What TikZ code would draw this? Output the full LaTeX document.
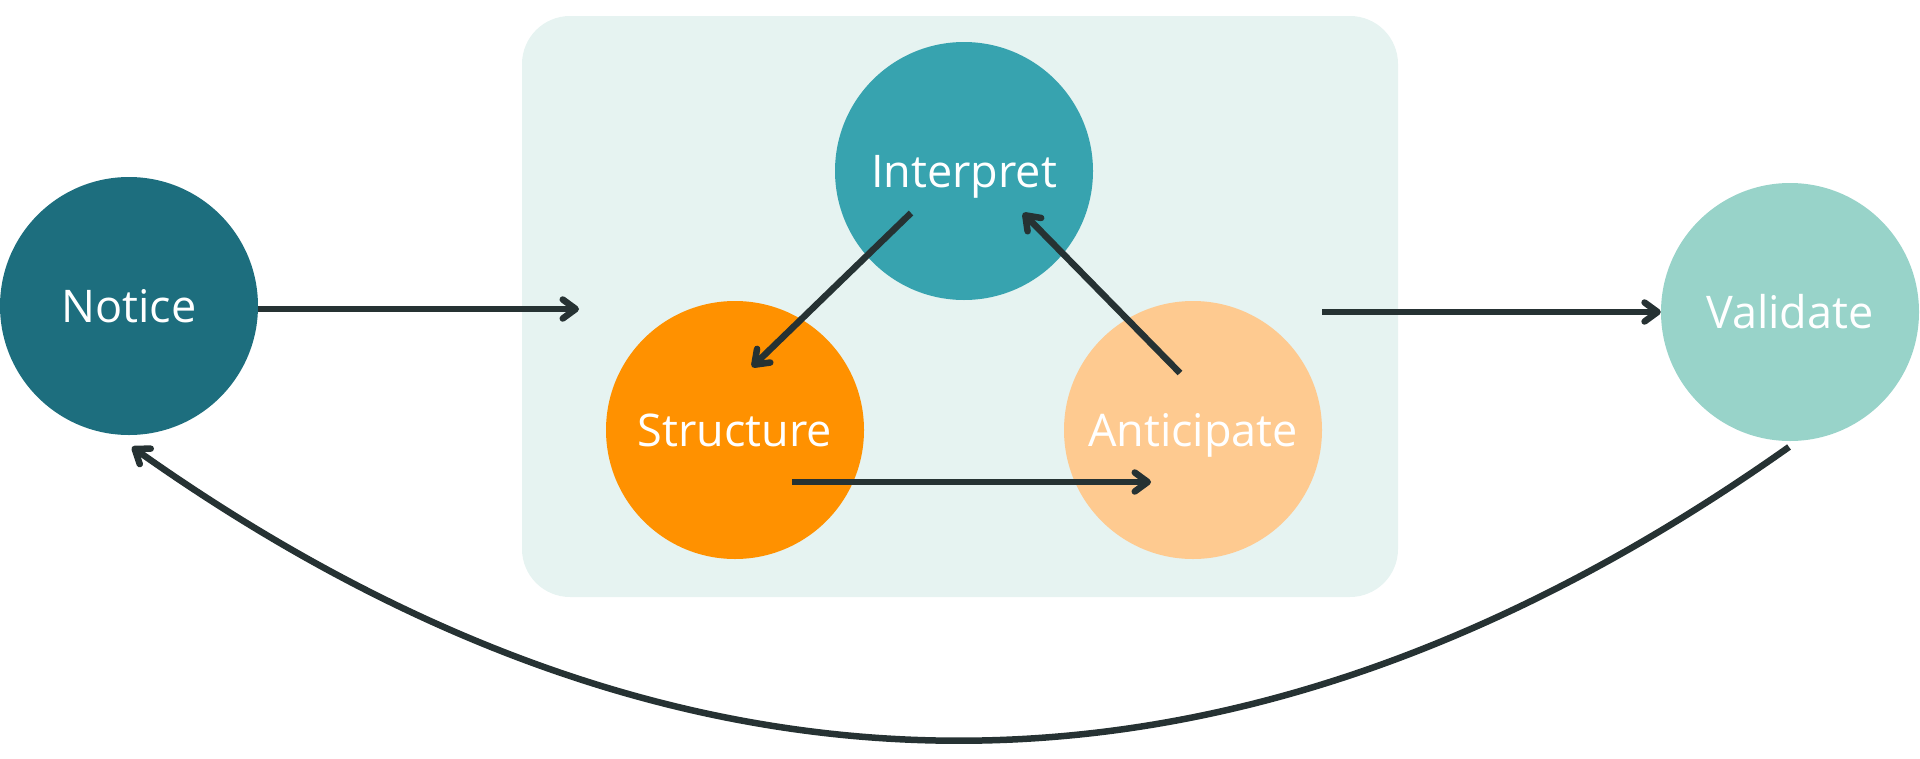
\documentclass[tikz,border=0pt]{standalone}
\usepackage{fontspec}
\setmainfont{Open Sans}
\usetikzlibrary{arrows.meta}
\definecolor{cNotice}{HTML}{1D6E7E}
\definecolor{cInterpret}{HTML}{37A3AF}
\definecolor{cStructure}{HTML}{FF9100}
\definecolor{cAnticipate}{HTML}{FECA90}
\definecolor{cValidate}{HTML}{98D3C9}
\definecolor{cBack}{HTML}{E6F3F1}
\definecolor{cLine}{HTML}{263233}
\begin{document}
\begin{tikzpicture}[x=1pt,y=-1pt,
  stage/.style={circle, minimum size=258pt, inner sep=0pt, text=white,
    font=\fontsize{45}{54}\selectfont, text height=32pt, text depth=0pt},
  conn/.style={draw=cLine, line width=6.5pt,
    -{Straight Barb[length=13pt,width=19pt,round]}},
  panel/.style={fill=cBack, rounded corners=48pt}
]
\useasboundingbox (0,0) rectangle (1920,758);
\fill[panel] (522,16) rectangle (1398,597);

\node[stage, fill=cNotice] (notice) at (129,306) {Notice};
\node[stage, fill=cInterpret] (interpret) at (964,171) {Interpret};
\node[stage, fill=cStructure] (structure) at (735,430) {Structure};
\node[stage, fill=cAnticipate] (anticipate) at (1193,430) {Anticipate};
\node[stage, fill=cValidate] (validate) at (1790,312) {Validate};

\coordinate (nEnd) at (579,309);
\coordinate (sStart) at (792,482);
\coordinate (aEnd) at (1151,482);
\coordinate (iStart) at (911,213);
\coordinate (sEnd) at (752,367);
\coordinate (aStart) at (1180,373);
\coordinate (iEnd) at (1023,213);
\coordinate (vStart) at (1789,447);
\coordinate (nBack) at (132,447);

\draw[conn] (notice.east |- nEnd) -- (nEnd);
\draw[conn] (iStart) -- (sEnd);
\draw[conn] (aStart) -- (iEnd);
\draw[conn] (sStart) -- (aEnd);
\draw[conn] (anticipate.east |- validate.west) -- (validate.west);
\draw[conn] (vStart) .. controls (1236,838) and (684,838) .. (nBack);
\end{tikzpicture}
\end{document}
